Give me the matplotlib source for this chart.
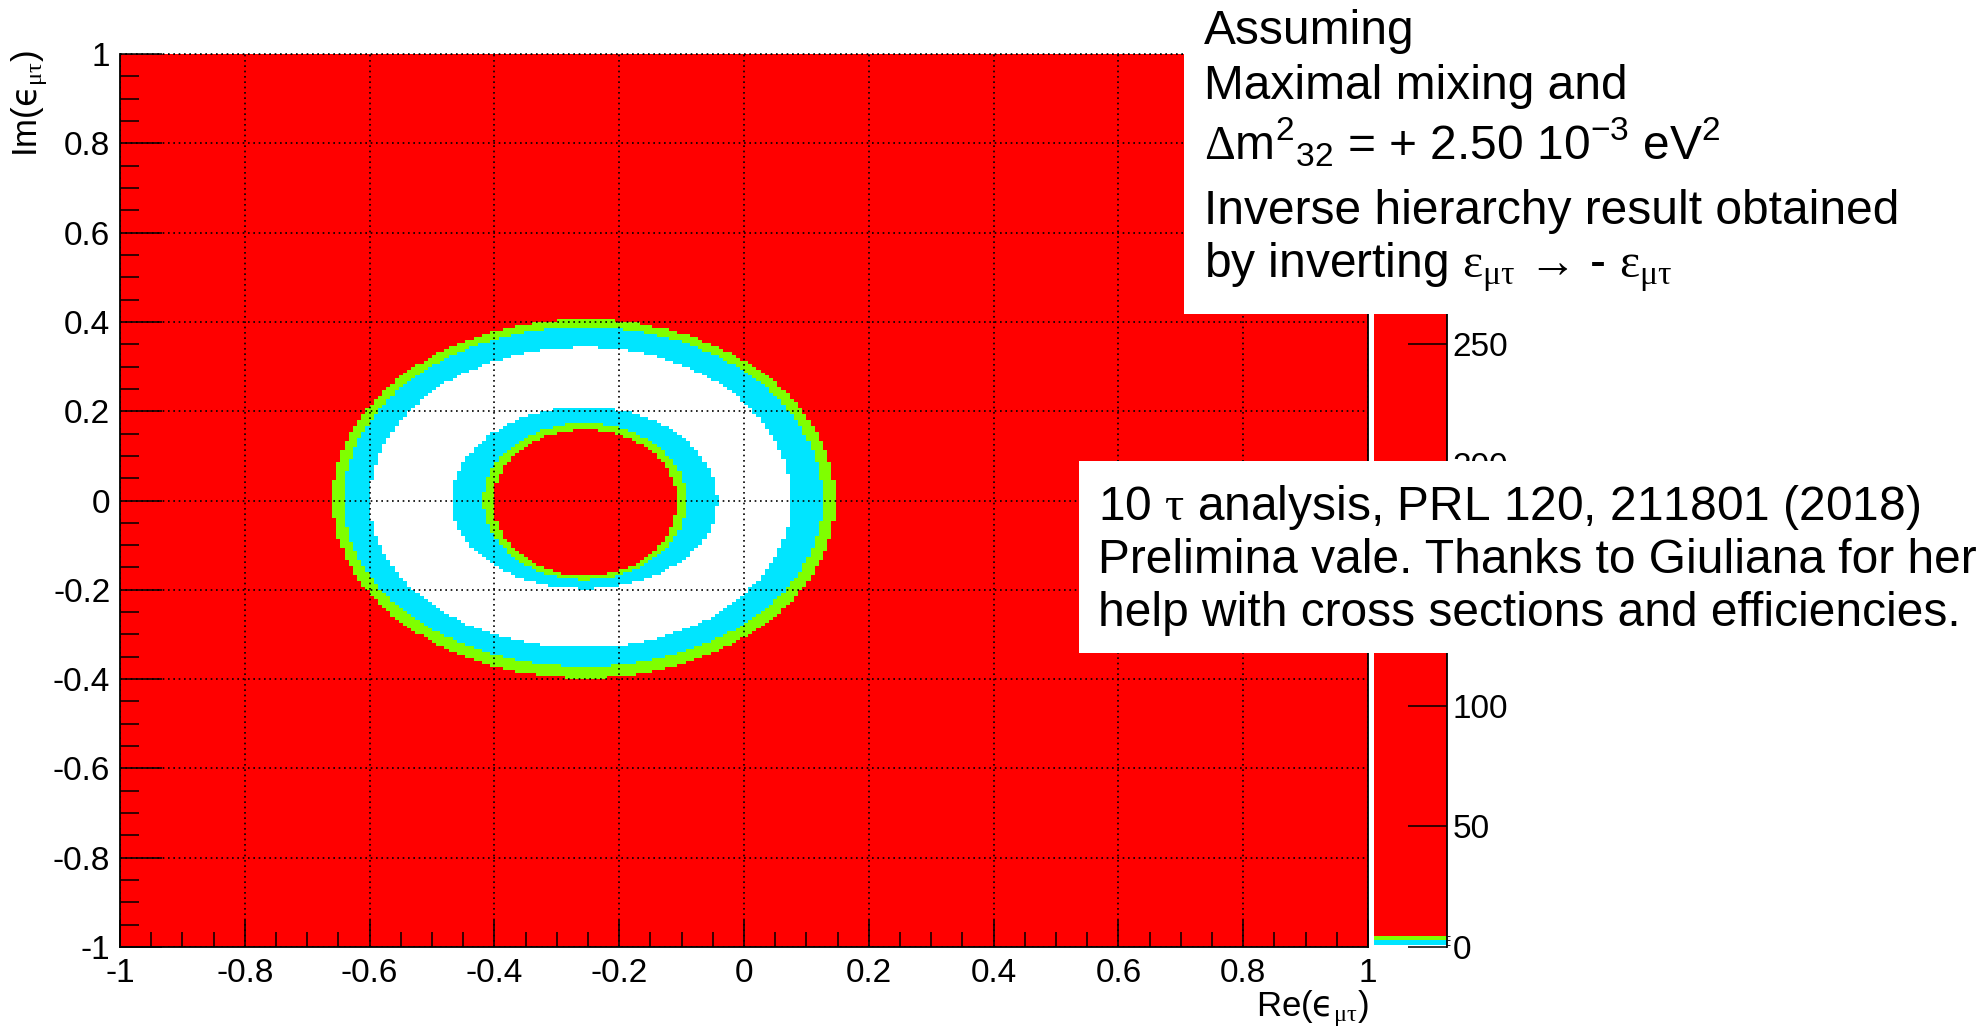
import numpy as np
import matplotlib
matplotlib.use('Agg')
import matplotlib.pyplot as plt
from matplotlib.colors import ListedColormap, BoundaryNorm
from matplotlib.patches import Rectangle

plt.rcParams['font.family'] = ['Liberation Sans', 'DejaVu Sans']
plt.rcParams['mathtext.fontset'] = 'custom'
plt.rcParams['mathtext.rm'] = 'Liberation Sans'
plt.rcParams['mathtext.it'] = 'Liberation Sans:italic'
plt.rcParams['mathtext.sf'] = 'Liberation Serif'
plt.rcParams['mathtext.tt'] = 'DejaVu Sans'

# scan grid in the complex eps_mutau plane
n_bins = 300
re_range = [-1.0, 1.0]
im_range = [-1.0, 1.0]
ring_center = [-0.255, 0.0]

# delta chi2 profile across the allowed ring; radius of each knot
# read towards -Re, +Re, +Im and -Im from the ring centre
knot_chi2 = [25.0, 4.5, 3.0, 1.0, 0.0, 1.0, 3.0, 4.5, 372.0]
knot_r_left = [0.0, 0.147, 0.163, 0.2135, 0.280, 0.345, 0.387, 0.404, 1.62]
knot_r_right = [0.0, 0.148, 0.163, 0.212, 0.270, 0.330, 0.381, 0.401, 1.62]
knot_r_up = [0.0, 0.158, 0.173, 0.209, 0.280, 0.344, 0.389, 0.406, 1.62]
knot_r_down = [0.0, 0.168, 0.177, 0.197, 0.265, 0.330, 0.372, 0.398, 1.62]

# contour levels and palette
levels = [0.0, 1.0, 3.0, 4.5, 370.0]
level_colors = ['#ffffff', '#00e5ff', '#7fff00', '#ff0000']
cbar_ticks = [0, 50, 100, 150, 200, 250, 300, 350]
axis_ticks = [-1, -0.8, -0.6, -0.4, -0.2, 0, 0.2, 0.4, 0.6, 0.8, 1]
axis_ticklabels = ['-1', '-0.8', '-0.6', '-0.4', '-0.2', '0', '0.2', '0.4', '0.6', '0.8', '1']

notes_top = [
    'Assuming',
    'Maximal mixing and',
    r'$\mathsf{\Delta}\mathrm{m}^{2}{}_{32}$ = + 2.50 10${}^{-3}$ eV${}^{2}$',
    'Inverse hierarchy result obtained',
    r'by inverting $\mathsf{ε}_{\mathsf{\mu\tau}}$ → - $\mathsf{ε}_{\mathsf{\mu\tau}}$',
]
notes_bottom = [
    r'10 $\mathsf{\tau}$ analysis, PRL 120, 211801 (2018)',
    'Prelimina vale. Thanks to Giuliana for her',
    'help with cross sections and efficiencies.',
]

# build the delta chi2 map on bin centres
re_edges = np.linspace(re_range[0], re_range[1], n_bins + 1)
im_edges = np.linspace(im_range[0], im_range[1], n_bins + 1)
re_c = 0.5 * (re_edges[1:] + re_edges[:-1])
im_c = 0.5 * (im_edges[1:] + im_edges[:-1])
X, Y = np.meshgrid(re_c, im_c)
dx = X - ring_center[0]
dy = Y - ring_center[1]
r = np.hypot(dx, dy)
w = dy ** 2 / np.maximum(r ** 2, 1e-12)
kr_re = np.where(dx[None] < 0, np.array(knot_r_left)[:, None, None], np.array(knot_r_right)[:, None, None])
kr_im = np.where(dy[None] > 0, np.array(knot_r_up)[:, None, None], np.array(knot_r_down)[:, None, None])
kr = kr_re * (1 - w) + kr_im * w
chi2 = np.full(r.shape, knot_chi2[-1])
for k in range(len(knot_chi2) - 1):
    lo, hi = kr[k], kr[k + 1]
    m = (r >= lo) & (r < hi)
    t = (r - lo) / (hi - lo)
    seg = knot_chi2[k] + t * (knot_chi2[k + 1] - knot_chi2[k])
    chi2[m] = seg[m]

W, H = 1984, 1028
fig = plt.figure(figsize=(W / 100, H / 100), dpi=100)


def fx(px):
    return px / W


def fy(py):
    return 1 - py / H


ax = fig.add_axes([fx(120), fy(947), fx(1368) - fx(120), fy(54) - fy(947)])
cax = fig.add_axes([fx(1374), fy(947), fx(1447) - fx(1374), fy(54) - fy(947)])

cmap = ListedColormap(level_colors)
norm = BoundaryNorm(levels, cmap.N)
mesh = ax.pcolormesh(re_edges, im_edges, chi2, cmap=cmap, norm=norm)

ax.set_xlim(re_range)
ax.set_ylim(im_range)
ax.set_xticks(axis_ticks)
ax.set_xticklabels(axis_ticklabels)
ax.set_yticks(axis_ticks)
ax.set_yticklabels(axis_ticklabels)
ax.set_xticks(np.arange(-1, 1.001, 0.05), minor=True)
ax.set_yticks(np.arange(-1, 1.001, 0.05), minor=True)
ax.tick_params(axis='both', which='both', direction='in', width=1.1, colors='black',
               labelsize=24, top=False, right=False)
ax.tick_params(axis='x', which='major', length=19.5, pad=8)
ax.tick_params(axis='x', which='minor', length=10.8)
ax.tick_params(axis='y', which='major', length=30, pad=7)
ax.tick_params(axis='y', which='minor', length=13.7)
ax.grid(True, which='major', color='black', linestyle=(0, (1, 2.2)), linewidth=1.2)
ax.axhline(1, color='black', linestyle=(0, (1, 2.2)), linewidth=1.2, clip_on=False)
ax.spines['top'].set_visible(False)
for s in ['left', 'bottom', 'right']:
    ax.spines[s].set_linewidth(1.3)

fig.text(fx(1369), fy(1016), r'Re($\mathtt{ϵ}_{\mathsf{\mu\tau}}$)', ha='right', va='baseline', fontsize=25)
fig.text(fx(30), fy(50), r'Im($\mathtt{ϵ}_{\mathsf{\mu\tau}}$)', ha='center', va='top', rotation=90, fontsize=25)

cb = fig.colorbar(mesh, cax=cax, spacing='proportional', ticks=cbar_ticks)
cb.outline.set_visible(False)
cax.tick_params(axis='y', direction='in', length=28, width=1.1, labelsize=24, pad=4)
cax.set_yticklabels([str(t) for t in cbar_ticks])
cax.axvline(1, color='black', linewidth=1.3, clip_on=False)

# white note boxes over the top right of the plot
fig.patches.append(Rectangle((fx(1184), fy(314)), 1 - fx(1184), fy(0) - fy(314),
                             transform=fig.transFigure, facecolor='white', edgecolor='none', zorder=5))
fig.patches.append(Rectangle((fx(1079), fy(653)), 1 - fx(1079), fy(461) - fy(653),
                             transform=fig.transFigure, facecolor='white', edgecolor='none', zorder=5))

for line, base in zip(notes_top, [44, 99, 159, 224, 277]):
    fig.text(fx(1204), fy(base), line, ha='left', va='baseline', fontsize=34.5, zorder=6)
for line, base in zip(notes_bottom, [520, 573, 626]):
    fig.text(fx(1098), fy(base), line, ha='left', va='baseline', fontsize=34.5, zorder=6)

fig.savefig('out.png', dpi=100)
